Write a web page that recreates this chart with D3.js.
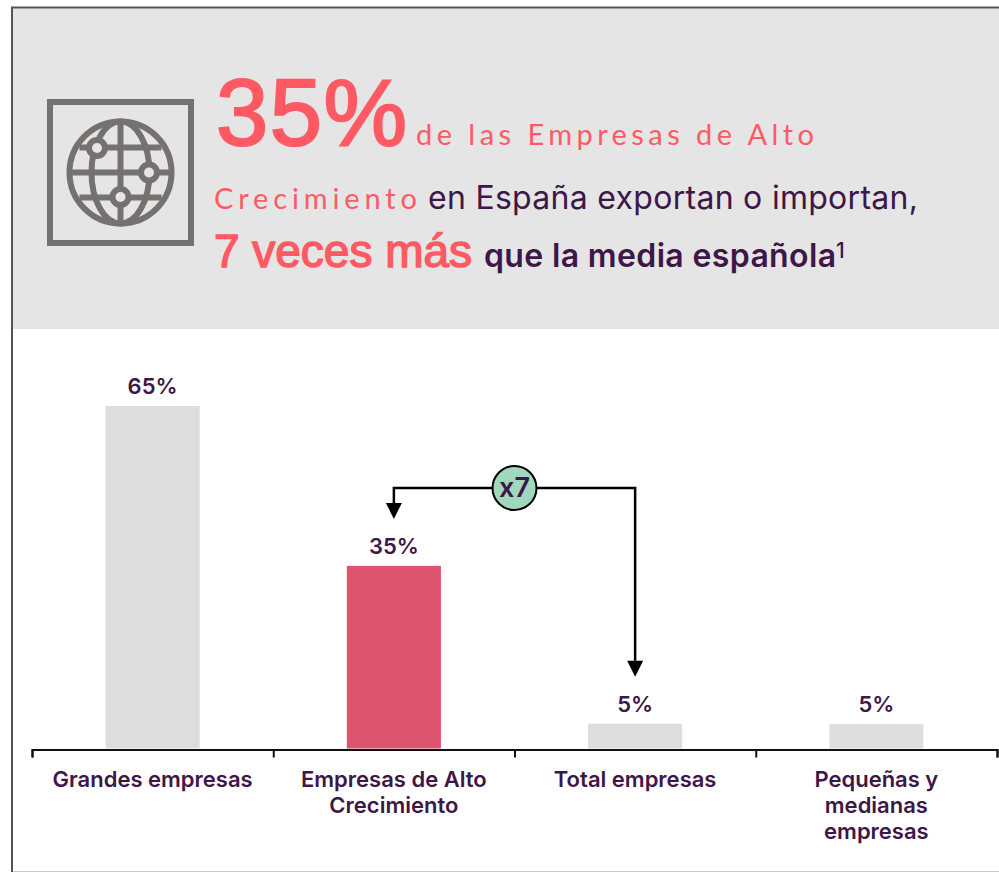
<!DOCTYPE html>
<html><head><meta charset="utf-8">
<script src="https://cdn.jsdelivr.net/npm/d3@7"></script>
<style>html,body{margin:0;padding:0;background:#fff}svg{display:block}text{font-family:Inter,sans-serif}</style>
</head><body><svg id="c" width="999" height="872"></svg>
<script>
const categories=[["Grandes empresas"],["Empresas de Alto","Crecimiento"],["Total empresas"],["Pequeñas y","medianas","empresas"]];
const categoryKeys=["Grandes empresas","Empresas de Alto Crecimiento","Total empresas","Pequeñas y medianas empresas"];
const values=[65,34.7,4.8,4.7];
const valueLabels=["65%","35%","5%","5%"];
const barColors=["#DDDDDD","#DC546D","#DDDDDD","#DDDDDD"];
const comparison={label:"x7",from:"Empresas de Alto Crecimiento",to:"Total empresas"};
const purple="#3E1647",coral="#FF5A64",iconGrey="#767171";

const svg=d3.select("#c");
const x=d3.scaleBand().domain(categoryKeys).range([32,997]);
const y=d3.scaleLinear().domain([0,65]).range([749,406]);
const edges=d3.scaleLinear().domain([0,4]).range([32,997]);
const barW=x.bandwidth()*0.39;

// frame + header
svg.append("rect").attr("x",12).attr("y",8).attr("width",987).attr("height",321).attr("fill","#E5E5E5");
svg.append("path").attr("d","M12,872V7.5H999").attr("fill","none").attr("stroke","#555").attr("stroke-width",2);
svg.append("path").attr("d","M13,871.5H999").attr("fill","none").attr("stroke","#CCC").attr("stroke-width",1);

// icon
const ic=svg.append("g").attr("fill","none").attr("stroke",iconGrey).attr("stroke-width",6);
ic.append("rect").attr("x",50).attr("y",102).attr("width",141).attr("height",141);
const cx=120.5,cy=172.5;
ic.append("circle").attr("cx",cx).attr("cy",cy).attr("r",51);
ic.append("ellipse").attr("cx",cx).attr("cy",cy).attr("rx",29).attr("ry",51);
ic.append("path").attr("d",`M${cx},${cy-51}V${cy+51}M${cx-51},${cy}H${cx+51}M${cx-41},${cy-25}H${cx+41}M${cx-41},${cy+25}H${cx+41}`);
[[97,148],[149,172.5],[120.5,197]].forEach(p=>{
  ic.append("circle").attr("cx",p[0]).attr("cy",p[1]).attr("r",8).attr("fill","#E5E5E5");
});

// header text
function t(s,px,py,size,weight,fill,width,family,stroke){
  const e=svg.append("text").attr("x",px).attr("y",py).attr("font-size",size).attr("font-weight",weight).attr("fill",fill).text(s);
  if(family)e.style("font-family",family);
  if(width)e.attr("textLength",width).attr("lengthAdjust","spacing");
  if(stroke)e.attr("stroke",fill).attr("stroke-width",stroke);
  return e;
}
t("35%",216,144.5,94,400,coral,191,"'Liberation Sans'",2.2);
t("de las Empresas de Alto",416,144.5,29,400,coral,398,"Lato");
t("Crecimiento",214,209,29,400,coral,203,"Lato");
t("en España exportan o importan,",428,209,32,400,purple,490);
t("7 veces más",214,267,46,400,coral,258,"'Liberation Sans'",1.5);
t("que la media española",484,267,32,600,purple,352);
t("1",836,258,21,500,purple);

// axis
const ax=svg.append("g").attr("transform","translate(0,749.5)").call(d3.axisBottom(edges).ticks(4).tickSize(8).tickSizeOuter(8).tickFormat(""));
ax.selectAll("path,line").attr("stroke","#111").attr("stroke-width",2);

// bars
const bx=d=>x(categoryKeys[d])+x.bandwidth()/2;
svg.append("g").selectAll("rect").data(values).join("rect")
 .attr("x",(d,i)=>bx(i)-barW/2).attr("width",barW)
 .attr("y",d=>y(d)).attr("height",d=>y(0)-y(d)-0.5).attr("fill",(d,i)=>barColors[i]);
svg.append("g").selectAll("text").data(values).join("text")
 .attr("x",(d,i)=>bx(i)).attr("y",d=>y(d)-12).attr("text-anchor","middle")
 .attr("font-size",22).attr("font-weight",600).attr("fill",purple).text((d,i)=>valueLabels[i]);

// category labels
const cg=svg.append("g").selectAll("g").data(categories).join("g");
cg.each(function(lines,i){
  d3.select(this).selectAll("text").data(lines).join("text")
   .attr("x",bx(i)).attr("y",(l,j)=>787+j*26).attr("text-anchor","middle")
   .attr("font-size",22).attr("font-weight",600).attr("fill",purple).text(l=>l);
});

// comparison connector
const xa=bx(categoryKeys.indexOf(comparison.from)),xb=bx(categoryKeys.indexOf(comparison.to));
const ly=488,mid=514.5;
const arrowA=y(values[1])-47,arrowB=y(values[2])-47;
svg.append("path").attr("d",`M${xa},${arrowA-16}V${ly}H${xb}V${arrowB-16}`).attr("fill","none").attr("stroke","#000").attr("stroke-width",2.5);
[[xa,arrowA],[xb,arrowB]].forEach(p=>svg.append("path").attr("d",`M${p[0]-8},${p[1]-16}H${p[0]+8}L${p[0]},${p[1]}Z`).attr("fill","#000"));
svg.append("circle").attr("cx",mid).attr("cy",ly).attr("r",22).attr("fill","#9FD8BC").attr("stroke","#000").attr("stroke-width",2);
svg.append("text").attr("x",mid).attr("y",ly+9).attr("text-anchor","middle").attr("font-size",27).attr("font-weight",600).attr("fill",purple).text(comparison.label);
</script></body></html>
